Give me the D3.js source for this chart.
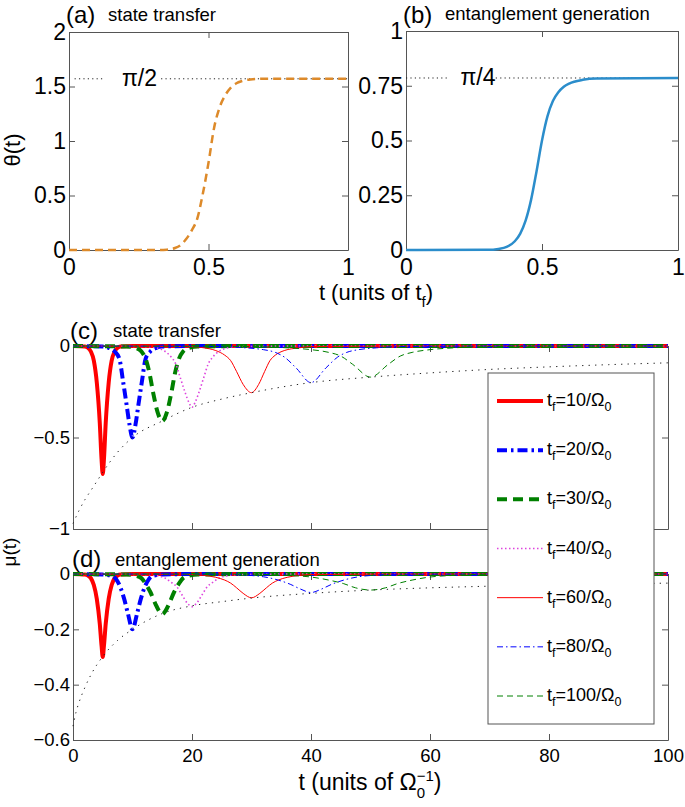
<!DOCTYPE html>
<html>
<head>
<meta charset="utf-8">
<script src="https://cdn.jsdelivr.net/npm/d3@7"></script>
<style>
  body { margin: 0; background: #fff; }
  svg { font-family: "Liberation Sans", Arial, Helvetica, sans-serif; }
</style>
</head>
<body>
<svg id="chart" width="685" height="807"></svg>
<script>
// ---- data ----
// (a) theta(t), state transfer
var tA = [0, 0.3, 0.35, 0.38, 0.4, 0.42, 0.44, 0.46, 0.48, 0.5, 0.52, 0.54, 0.56, 0.58, 0.6, 0.62, 0.65, 0.7, 1];
var thetaA = [0, 0, 0.003, 0.018, 0.045, 0.1, 0.18, 0.29, 0.52, 0.8, 1.12, 1.31, 1.42, 1.49, 1.53, 1.55, 1.565, 1.5708, 1.5708];
// (b) theta(t), entanglement generation
var tB = [0, 0.3, 0.34, 0.37, 0.4, 0.42, 0.44, 0.46, 0.48, 0.5, 0.52, 0.54, 0.56, 0.58, 0.6, 0.65, 0.7, 1];
var thetaB = [0, 0.001, 0.005, 0.014, 0.04, 0.075, 0.135, 0.23, 0.36, 0.5, 0.61, 0.68, 0.72, 0.745, 0.76, 0.777, 0.783, 0.785];

var refA = 1.5708, refB = 0.7854;
var refLabelA = "π/2", refLabelB = "π/4";
var refSpansA = [[0.02, 0.13], [0.33, 1]];
var refSpansB = [[0, 0.16], [0.33, 1]];

// (c) mu(t), state transfer, one array per t_f
var c10 = [[0,0],[2,-0.003],[2.5,-0.01],[3,-0.03],[3.5,-0.08],[4,-0.2],[4.5,-0.42],[4.8,-0.62],[5,-0.7],[5.2,-0.62],[5.5,-0.42],[6,-0.2],[6.5,-0.08],[7,-0.03],[7.5,-0.01],[8,-0.003],[10,0],[100,0]];
var c20 = [[0,0],[5,-0.003],[6,-0.01],[7,-0.03],[7.8,-0.07],[8.4,-0.19],[9,-0.32],[9.5,-0.43],[10,-0.5],[10.5,-0.43],[11,-0.32],[11.6,-0.19],[12.2,-0.07],[13,-0.03],[14,-0.01],[15,-0.003],[20,0],[100,0]];
var c30 = [[0,0],[9,-0.003],[10.5,-0.01],[11.5,-0.03],[12.2,-0.07],[12.8,-0.14],[13.5,-0.26],[14.2,-0.36],[15,-0.41],[15.8,-0.36],[16.5,-0.26],[17.2,-0.14],[17.8,-0.07],[18.5,-0.03],[19.5,-0.01],[21,-0.003],[30,0],[100,0]];
var c40 = [[0,0],[12,-0.003],[14,-0.01],[15.5,-0.03],[16.5,-0.06],[17.3,-0.1],[18,-0.17],[18.8,-0.25],[19.5,-0.31],[20,-0.335],[20.5,-0.31],[21.2,-0.25],[22,-0.17],[22.7,-0.1],[23.5,-0.06],[24.5,-0.03],[26,-0.01],[28,-0.003],[40,0],[100,0]];
var c60 = [[0,0],[20,-0.003],[22,-0.01],[24,-0.025],[25.5,-0.05],[26.5,-0.08],[27.5,-0.14],[28.6,-0.21],[30,-0.255],[31.2,-0.21],[32.2,-0.14],[33.1,-0.08],[34,-0.05],[35.5,-0.025],[38,-0.01],[40,-0.003],[60,0],[100,0]];
var c80 = [[0,0],[25,-0.003],[29,-0.01],[32,-0.02],[34,-0.035],[35.5,-0.06],[37.5,-0.12],[40,-0.2],[42.5,-0.12],[44.5,-0.06],[46,-0.035],[48,-0.02],[51,-0.01],[55,-0.003],[80,0],[100,0]];
var c100 = [[0,0],[30,-0.003],[36,-0.01],[40,-0.02],[43,-0.035],[45,-0.055],[47,-0.1],[50,-0.17],[53,-0.1],[55,-0.055],[57,-0.035],[60,-0.02],[64,-0.01],[70,-0.003],[100,0]];
var envC = [[0,-0.97],[1,-0.9],[2,-0.84],[3,-0.79],[4,-0.74],[5,-0.69],[7.5,-0.58],[10,-0.5],[15,-0.41],[20,-0.335],[25,-0.29],[30,-0.255],[40,-0.2],[50,-0.17],[60,-0.147],[70,-0.128],[80,-0.114],[90,-0.102],[100,-0.092]];

// (d) mu(t), entanglement generation
var d10 = [[0,0],[2,-0.002],[2.5,-0.005],[3,-0.015],[3.5,-0.04],[4,-0.09],[4.5,-0.18],[4.8,-0.26],[5,-0.3],[5.2,-0.26],[5.5,-0.18],[6,-0.09],[6.5,-0.04],[7,-0.015],[7.5,-0.005],[8,-0.002],[10,0],[100,0]];
var d20 = [[0,0],[5,-0.002],[6.5,-0.006],[7.3,-0.02],[8,-0.05],[8.6,-0.09],[9.2,-0.14],[10,-0.2],[10.8,-0.14],[11.4,-0.09],[12,-0.05],[12.7,-0.02],[13.5,-0.006],[15,-0.002],[20,0],[100,0]];
var d30 = [[0,0],[9,-0.002],[10.5,-0.006],[11.5,-0.015],[12.2,-0.035],[13,-0.065],[14,-0.115],[15,-0.145],[16,-0.115],[17,-0.065],[17.8,-0.035],[18.5,-0.015],[19.5,-0.006],[21,-0.002],[30,0],[100,0]];
var d40 = [[0,0],[12,-0.002],[14,-0.006],[15.5,-0.015],[16.5,-0.03],[17.4,-0.045],[18.3,-0.075],[19.2,-0.105],[20,-0.118],[20.8,-0.105],[21.7,-0.075],[22.6,-0.045],[23.5,-0.03],[24.5,-0.015],[26,-0.006],[28,-0.002],[40,0],[100,0]];
var d60 = [[0,0],[20,-0.002],[22,-0.005],[24,-0.012],[25.5,-0.022],[26.5,-0.033],[27.5,-0.05],[28.6,-0.07],[30,-0.086],[31.4,-0.07],[32.5,-0.05],[33.5,-0.033],[34.5,-0.022],[36,-0.012],[38,-0.005],[40,-0.002],[60,0],[100,0]];
var d80 = [[0,0],[25,-0.001],[29,-0.004],[32,-0.01],[34.5,-0.022],[36.5,-0.037],[38.3,-0.055],[40,-0.067],[41.7,-0.055],[43.5,-0.037],[45.5,-0.022],[48,-0.01],[51,-0.004],[55,-0.001],[80,0],[100,0]];
var d100 = [[0,0],[30,-0.001],[36,-0.005],[40,-0.011],[43,-0.022],[45.5,-0.035],[47.5,-0.05],[50,-0.058],[52.5,-0.05],[54.5,-0.035],[57,-0.022],[60,-0.011],[64,-0.005],[70,-0.001],[100,0]];
var envD = [[0,-0.55],[0.5,-0.5],[1,-0.465],[2,-0.41],[3,-0.365],[5,-0.298],[7.5,-0.24],[10,-0.2],[15,-0.143],[20,-0.115],[25,-0.1],[30,-0.087],[40,-0.07],[50,-0.058],[60,-0.05],[70,-0.044],[80,-0.039],[90,-0.036],[100,-0.033]];

var tfValues = [10, 20, 30, 40, 60, 80, 100];
var seriesC = [c10, c20, c30, c40, c60, c80, c100];
var seriesD = [d10, d20, d30, d40, d60, d80, d100];

// tick values and labels
var xTicksTop = [0, 0.5, 1], xLabelsTop = ["0", "0.5", "1"];
var yTicksA = [0, 0.5, 1, 1.5, 2], yLabelsA = ["0", "0.5", "1", "1.5", "2"];
var yTicksB = [0, 0.25, 0.5, 0.75, 1], yLabelsB = ["0", "0.25", "0.5", "0.75", "1"];
var xTicksBot = [0, 20, 40, 60, 80, 100], xLabelsBot = ["0", "20", "40", "60", "80", "100"];
var yTicksC = [-1, -0.5, 0], yLabelsC = ["−1", "−0.5", "0"];
var yTicksD = [-0.6, -0.4, -0.2, 0], yLabelsD = ["−0.6", "−0.4", "−0.2", "0"];

// ---- styles (kept apart from the data) ----
var lineStyles = [
  { color: "#ff0000", width: 4, dash: null },
  { color: "#0000ff", width: 4, dash: "10,4,2.5,4" },
  { color: "#008000", width: 4, dash: "10,6" },
  { color: "#dd44dd", width: 1.6, dash: "1.5,2.5" },
  { color: "#ff0000", width: 1, dash: null },
  { color: "#0000ff", width: 1, dash: "6,3,1.5,3" },
  { color: "#008000", width: 1, dash: "6,4" }
];
var FONT = "'Liberation Sans', Arial, Helvetica, sans-serif";
var AXIS_COLOR = "#555";

var svg = d3.select("#chart");

// Scales for the four panels.
var xA = d3.scaleLinear().domain([0, 1]).range([69, 348]);
var yA = d3.scaleLinear().domain([0, 2]).range([250, 32]);
var xB = d3.scaleLinear().domain([0, 1]).range([406, 678]);
var yB = d3.scaleLinear().domain([0, 1]).range([250, 31]);
var xC = d3.scaleLinear().domain([0, 100]).range([73, 668]);
var yC = d3.scaleLinear().domain([-1, 0]).range([529, 346]);
var xD = d3.scaleLinear().domain([0, 100]).range([73, 668]);
var yD = d3.scaleLinear().domain([-0.6, 0]).range([740, 574]);

// Draw a MATLAB style box: ticks pointing inward on all four sides.
function drawFrame(x, y, xt, xl, yt, yl, fs, xPad, showX) {
  var g = svg.append("g");
  var xr = x.range(), yr = y.range();
  var axes = [
    g.append("g").attr("transform", "translate(0," + yr[0] + ")")
      .call(d3.axisBottom(x).tickValues(xt).tickSizeInner(-6).tickSizeOuter(0).tickPadding(xPad)
        .tickFormat(function (d, i) { return showX ? xl[i] : ""; })),
    g.append("g").attr("transform", "translate(0," + yr[1] + ")")
      .call(d3.axisTop(x).tickValues(xt).tickSizeInner(-6).tickSizeOuter(0).tickFormat("")),
    g.append("g").attr("transform", "translate(" + xr[0] + ",0)")
      .call(d3.axisLeft(y).tickValues(yt).tickSizeInner(-6).tickSizeOuter(0).tickPadding(3)
        .tickFormat(function (d, i) { return yl[i]; })),
    g.append("g").attr("transform", "translate(" + xr[1] + ",0)")
      .call(d3.axisRight(y).tickValues(yt).tickSizeInner(-6).tickSizeOuter(0).tickFormat(""))
  ];
  axes.forEach(function (a) {
    a.attr("font-family", FONT).attr("font-size", fs);
    a.selectAll("path, line").attr("stroke", AXIS_COLOR);
    a.selectAll("text").attr("fill", "#000");
  });
}

function linePath(x, y) {
  return d3.line()
    .x(function (d) { return x(d[0]); })
    .y(function (d) { return y(d[1]); })
    .curve(d3.curveMonotoneX);
}

function zipXY(xs, ys) {
  return xs.map(function (v, i) { return [v, ys[i]]; });
}

// ---- panel (a) ----
drawFrame(xA, yA, xTicksTop, xLabelsTop, yTicksA, yLabelsA, 23, 9, true);
refSpansA.forEach(function (s) {
  svg.append("line")
    .attr("x1", xA(s[0])).attr("x2", xA(s[1]))
    .attr("y1", yA(refA)).attr("y2", yA(refA))
    .attr("stroke", "#222").attr("stroke-width", 1).attr("stroke-dasharray", "1.2,3.2");
});
svg.append("text").attr("x", xA(0.19)).attr("y", yA(refA) + 7)
  .attr("font-size", 23).text(refLabelA);
svg.append("path").datum(zipXY(tA, thetaA))
  .attr("d", linePath(xA, yA))
  .attr("fill", "none").attr("stroke", "#dd8a2a").attr("stroke-width", 2.5)
  .attr("stroke-dasharray", "8,5");

// ---- panel (b) ----
drawFrame(xB, yB, xTicksTop, xLabelsTop, yTicksB, yLabelsB, 23, 9, true);
refSpansB.forEach(function (s) {
  svg.append("line")
    .attr("x1", xB(s[0])).attr("x2", xB(s[1]))
    .attr("y1", yB(refB)).attr("y2", yB(refB))
    .attr("stroke", "#222").attr("stroke-width", 1).attr("stroke-dasharray", "1.2,3.2");
});
svg.append("text").attr("x", xB(0.2)).attr("y", yB(refB) + 7)
  .attr("font-size", 23).text(refLabelB);
svg.append("path").datum(zipXY(tB, thetaB))
  .attr("d", linePath(xB, yB))
  .attr("fill", "none").attr("stroke", "#2b8dcb").attr("stroke-width", 2.5);

// ---- panels (c) and (d) ----
drawFrame(xC, yC, xTicksBot, xLabelsBot, yTicksC, yLabelsC, 18.5, 9, false);
drawFrame(xD, yD, xTicksBot, xLabelsBot, yTicksD, yLabelsD, 18.5, 9, true);

function drawSeries(list, env, x, y) {
  var g = svg.append("g");
  list.forEach(function (s, i) {
    var st = lineStyles[i];
    g.append("path").datum(s)
      .attr("d", linePath(x, y))
      .attr("fill", "none")
      .attr("stroke", st.color)
      .attr("stroke-width", st.width)
      .attr("stroke-dasharray", st.dash);
  });
  g.append("path").datum(env)
    .attr("d", linePath(x, y))
    .attr("fill", "none").attr("stroke", "#222").attr("stroke-width", 1)
    .attr("stroke-dasharray", "1.3,5.2");
}
drawSeries(seriesC, envC, xC, yC);
drawSeries(seriesD, envD, xD, yD);

// ---- legend ----
var legend = svg.append("g");
legend.append("rect")
  .attr("x", 488).attr("y", 373).attr("width", 166).attr("height", 351)
  .attr("fill", "#fff").attr("stroke", AXIS_COLOR).attr("stroke-width", 1);
var legY = d3.scaleLinear().domain([0, tfValues.length - 1]).range([401, 696]);
tfValues.forEach(function (tf, i) {
  var st = lineStyles[i];
  var yy = legY(i);
  legend.append("line")
    .attr("x1", 497).attr("x2", 543).attr("y1", yy).attr("y2", yy)
    .attr("stroke", st.color).attr("stroke-width", st.width)
    .attr("stroke-dasharray", st.dash);
  var t = legend.append("text").attr("x", 547).attr("y", yy + 5).attr("font-size", 18);
  t.append("tspan").text("t");
  t.append("tspan").attr("dy", 5).attr("font-size", 12.5).text("f");
  t.append("tspan").attr("dy", -5).text("=" + tf + "/Ω");
  t.append("tspan").attr("dy", 5).attr("font-size", 12.5).text("0");
});

// ---- titles and axis labels ----
function panelTitle(tag, label, x, y, lx, ly) {
  svg.append("text").attr("x", x).attr("y", y).attr("font-size", 24).text(tag);
  svg.append("text").attr("x", lx).attr("y", ly).attr("font-size", 18.5).text(label);
}
panelTitle("(a)", "state transfer", 66, 23, 108, 21);
panelTitle("(b)", "entanglement generation", 403, 23, 445, 20);
panelTitle("(c)", "state transfer", 70, 339, 113, 337);
panelTitle("(d)", "entanglement generation", 72, 567, 115, 566);

svg.append("text").attr("transform", "translate(20,150) rotate(-90)")
  .attr("text-anchor", "middle").attr("font-size", 22).text("θ(t)");
svg.append("text").attr("transform", "translate(16,552) rotate(-90)")
  .attr("text-anchor", "middle").attr("font-size", 19).text("μ(t)");

var xl1 = svg.append("text").attr("x", 376).attr("y", 300)
  .attr("text-anchor", "middle").attr("font-size", 22);
xl1.append("tspan").text("t (units of t");
xl1.append("tspan").attr("dy", 7).attr("font-size", 15).text("f");
xl1.append("tspan").attr("dy", -7).text(")");

var xl2 = svg.append("text").attr("x", 370).attr("y", 790)
  .attr("text-anchor", "middle").attr("font-size", 23);
xl2.append("tspan").text("t (units of Ω");
xl2.append("tspan").attr("dy", 8).attr("font-size", 15).text("0");
xl2.append("tspan").attr("dx", -8.3).attr("dy", -17).attr("font-size", 15).text("−1");
xl2.append("tspan").attr("dy", 9).text(")");
</script>
</body>
</html>
